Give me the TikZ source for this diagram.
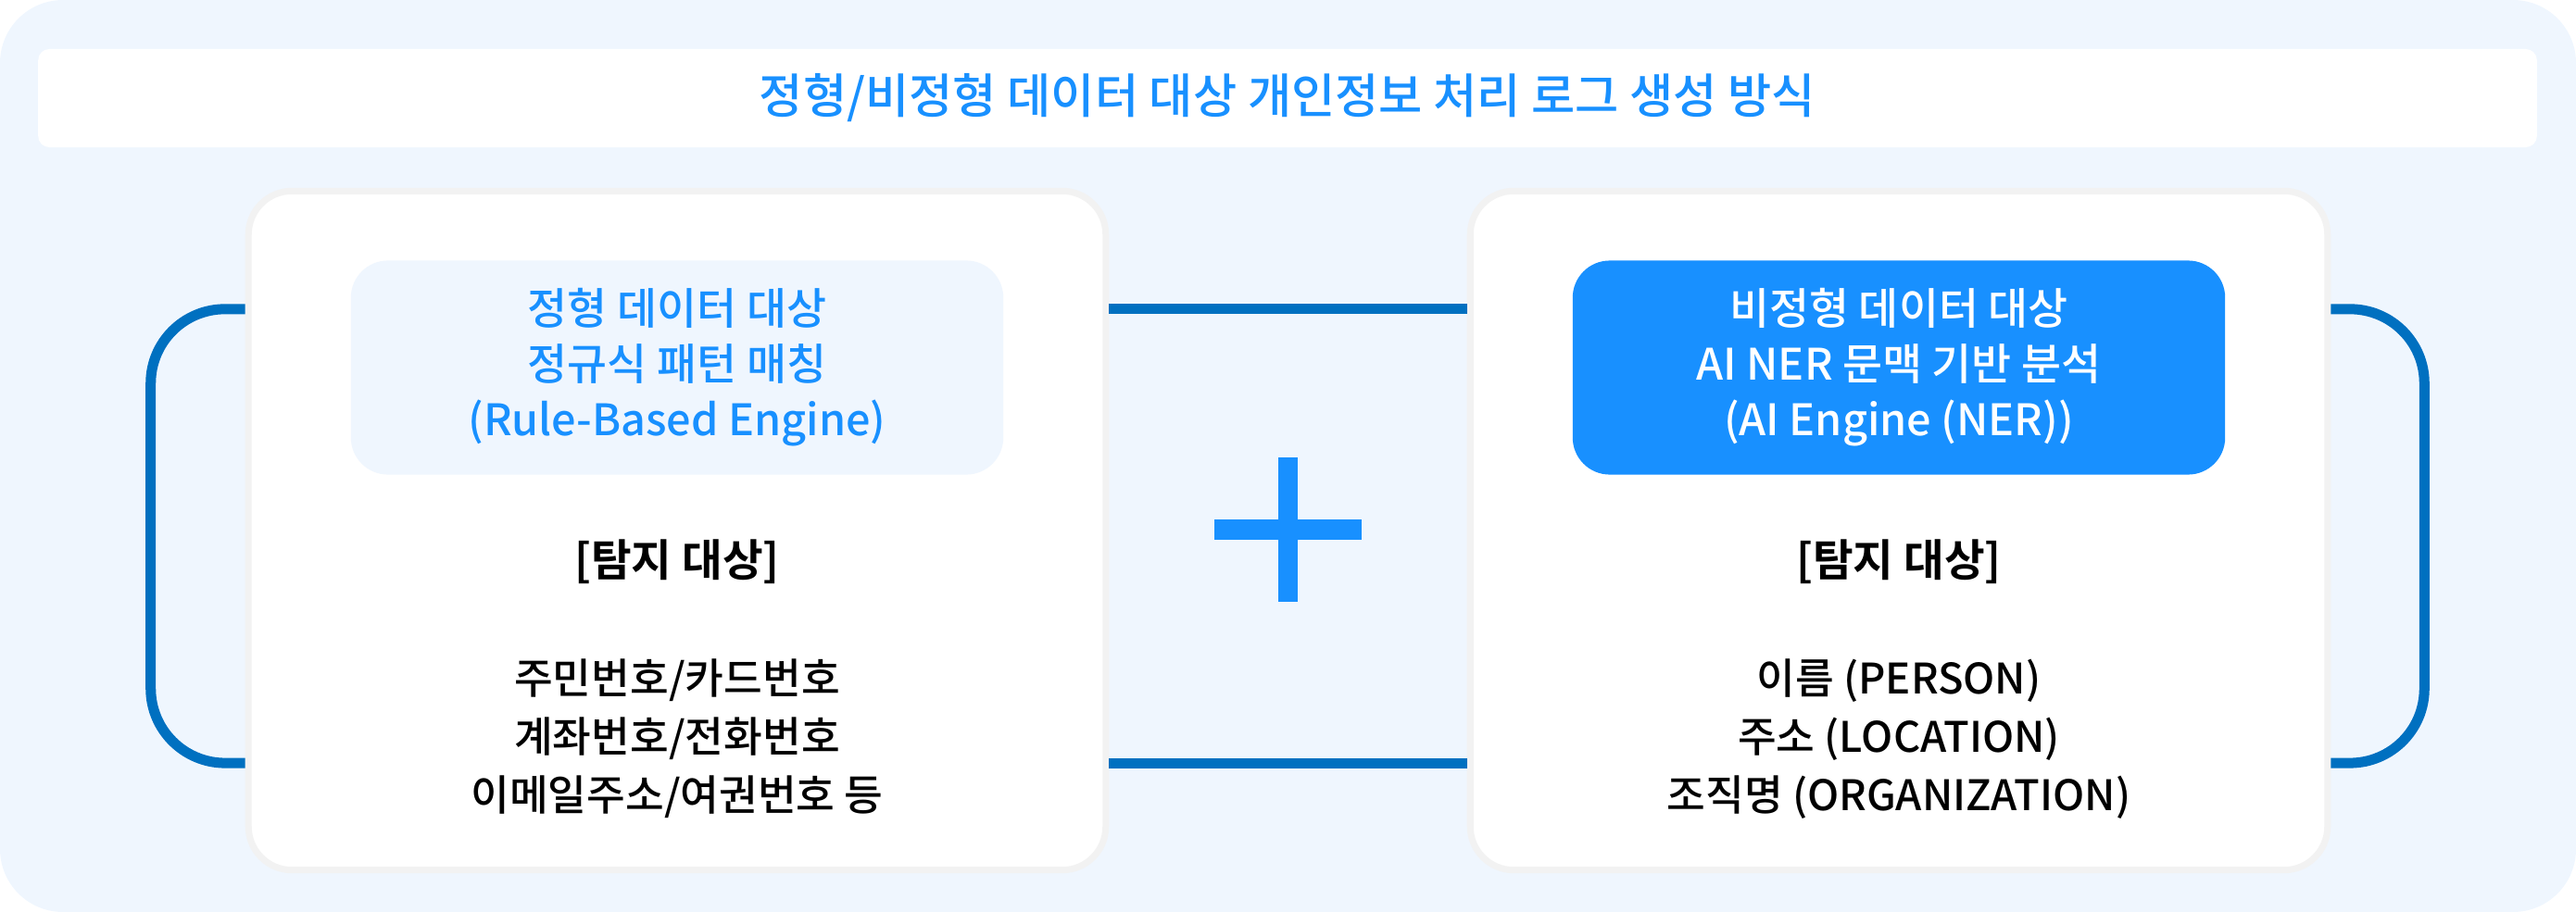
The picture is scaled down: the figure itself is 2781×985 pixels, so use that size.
\documentclass[tikz,border=0pt]{standalone}
\usepackage{fontspec}
\setmainfont{Noto Sans CJK KR Medium}[BoldFont={Noto Sans CJK KR Bold}]
\usetikzlibrary{arrows.meta}
\definecolor{bgblue}{HTML}{EFF6FE}
\definecolor{mainblue}{HTML}{1890FF}
\definecolor{lineblue}{HTML}{0070C0}
\definecolor{cardgray}{HTML}{F2F2F2}
\tikzset{%
            base/.style = {rectangle, draw=none, inner sep=0pt,
                           text centered, align=center},
  title/.style = {base, rounded corners=0.12cm, fill=white, minimum width=26.96cm,
                  minimum height=1.06cm, text=mainblue, font=\fontsize{14.6}{16}\selectfont},
  card/.style  = {base, rounded corners=0.47cm, fill=white, draw=cardgray,
                  line width=0.07cm, minimum width=9.25cm, minimum height=7.33cm},
  box0/.style  = {base, rounded corners=0.4cm, fill=bgblue, text=mainblue,
                  minimum width=7.04cm, minimum height=2.31cm,
                  font=\fontsize{13.3}{17.1}\selectfont},
  box1/.style  = {box0, fill=mainblue, text=white},
  head/.style  = {base, font=\fontsize{13.5}{16}\selectfont\bfseries},
  void/.style  = {base, font=\fontsize{12.9}{17.9}\selectfont},
  link/.style  = {draw=lineblue, line width=0.11cm},
  plus/.style  = {draw=mainblue, line width=0.21cm},
}
\begin{document}
\begin{tikzpicture}[x=0.01cm, y=-0.01cm]

  \useasboundingbox (0,0) rectangle (2781,985);
  \fill[bgblue, rounded corners=0.68cm] (0,0) rectangle (2781,985);

  \node (onTitle)    [title] at (1390,106) {정형/비정형 데이터 대상 개인정보 처리 로그 생성 방식};

  \node (onRuleCard) [card]  at (731,573)  {};
  \node (onAICard)   [card]  at (2050,573) {};

  \node (onRule)     [box0]  at (731,397)  {정형 데이터 대상\\정규식 패턴 매칭\\(Rule-Based Engine)};
  \node (onAI)       [box1]  at (2050,397) {비정형 데이터 대상\\AI NER 문맥 기반 분석\\(AI Engine (NER))};

  \node (onRuleHead) [head]  at (731,607)  {[탐지 대상]};
  \node (onAIHead)   [head]  at (2050,607) {[탐지 대상]};

  \node (onRuleList) [void]  at (731,798)  {주민번호/카드번호\\계좌번호/전화번호\\이메일주소/여권번호 등};
  \node (onAIList)   [void]  at (2050,798) {이름 (PERSON)\\주소 (LOCATION)\\조직명 (ORGANIZATION)};

  % brackets and links between the cards
  \draw[link, rounded corners=0.8cm] ([yshift=2.39cm]onRuleCard.west) -- ++(-102,0)
        -- ++(0,490) -- ([yshift=-2.51cm]onRuleCard.west);
  \draw[link]      ([yshift=2.39cm]onRuleCard.east) -- ([yshift=2.39cm]onAICard.west);
  \draw[link]      ([yshift=-2.51cm]onRuleCard.east) -- ([yshift=-2.51cm]onAICard.west);
  \draw[link, rounded corners=0.8cm] ([yshift=2.39cm]onAICard.east) -- ++(101,0)
        -- ++(0,490) -- ([yshift=-2.51cm]onAICard.east);

  \coordinate (onPlus) at (1390,572);
  \draw[plus] ([xshift=-0.79cm]onPlus) -- ([xshift=0.8cm]onPlus);
  \draw[plus] ([yshift=0.78cm]onPlus) -- ([yshift=-0.78cm]onPlus);
\end{tikzpicture}
\end{document}
